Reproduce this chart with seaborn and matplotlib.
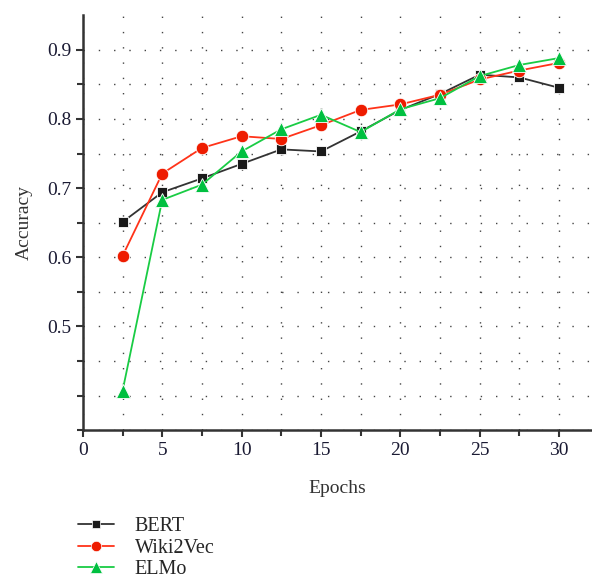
import matplotlib
matplotlib.use("Agg")
import matplotlib.pyplot as plt
import seaborn as sns
import numpy as np
import pandas as pd

epochs = [2.5, 5, 7.5, 10, 12.5, 15, 17.5, 20, 22.5, 25, 27.5, 30]
bert = [0.651, 0.694, 0.714, 0.735, 0.756, 0.753, 0.782, 0.813, 0.836, 0.864, 0.860, 0.845]
wiki2vec = [0.602, 0.721, 0.758, 0.775, 0.771, 0.791, 0.813, 0.821, 0.835, 0.857, 0.870, 0.881]
elmo = [0.407, 0.683, 0.705, 0.753, 0.785, 0.806, 0.781, 0.814, 0.830, 0.862, 0.878, 0.888]
models = ["BERT", "Wiki2Vec", "ELMo"]

df = pd.DataFrame({
    "Epochs": epochs * 3,
    "Accuracy": bert + wiki2vec + elmo,
    "Model": [m for m in models for _ in epochs],
})

sns.set_style("white")
plt.rcParams["font.family"] = ["Liberation Serif", "DejaVu Serif"]

fig = plt.figure(figsize=(5.92, 5.83), dpi=100)
ax = fig.add_axes([0.14, 0.262, 0.858, 0.712])

palette = {"BERT": "#333333", "Wiki2Vec": "#ff3319", "ELMo": "#19cc44"}
markers = {"BERT": "s", "Wiki2Vec": "o", "ELMo": "^"}
face = {"BERT": "#1a1a1a", "Wiki2Vec": "#ee1c00", "ELMo": "#00c040"}
msize = {"BERT": 7.5, "Wiki2Vec": 9, "ELMo": 10}

sns.lineplot(data=df, x="Epochs", y="Accuracy", hue="Model", style="Model",
             palette=palette, markers=markers, dashes=False,
             markeredgecolor="white", markeredgewidth=0.6, linewidth=1.3, ax=ax,
             legend=False)

for line, m in zip(ax.lines, models):
    line.set_markerfacecolor(face[m])
    line.set_markersize(msize[m])

ax.set_xlim(0, 32)
ax.set_ylim(0.35, 0.95)
ax.set_xticks(np.arange(0, 31, 5))
ax.set_xticks(np.arange(2.5, 31, 5), minor=True)
ax.set_yticks([0.5, 0.6, 0.7, 0.8, 0.9])
ax.set_yticklabels(["0.5", "0.6", "0.7", "0.8", "0.9"])
ax.set_yticks([0.35, 0.4, 0.45, 0.55, 0.65, 0.75, 0.85], minor=True)

ax.grid(True, which="both", linestyle=(0, (1, 10)), color="#444444", linewidth=1.0)
ax.tick_params(which="both", direction="out", length=5, width=1.5, color="#333333",
               labelsize=14, labelcolor="#1a1a33")
ax.tick_params(which="minor", length=4)
ax.tick_params(axis="both", which="both", left=True, bottom=True)

for s in ["top", "right"]:
    ax.spines[s].set_visible(False)
for s in ["left", "bottom"]:
    ax.spines[s].set_color("#333333")
    ax.spines[s].set_linewidth(1.8)

ax.set_xlabel("Epochs", fontsize=14, color="#333333", labelpad=15)
ax.set_ylabel("Accuracy", fontsize=14, color="#333333", labelpad=10)

handles = [plt.Line2D([], [], color=palette[m], marker=markers[m], markersize=msize[m] - 1.5,
                      markerfacecolor=face[m], markeredgecolor="white", markeredgewidth=0.5,
                      linewidth=1.3)
           for m in models]
fig.legend(handles, models, loc="upper left", bbox_to_anchor=(0.115, 0.13), frameon=False,
           fontsize=14.5, handlelength=1.8, labelspacing=0.12, handletextpad=1.0, borderpad=0)

fig.savefig("out.png", dpi=100)
